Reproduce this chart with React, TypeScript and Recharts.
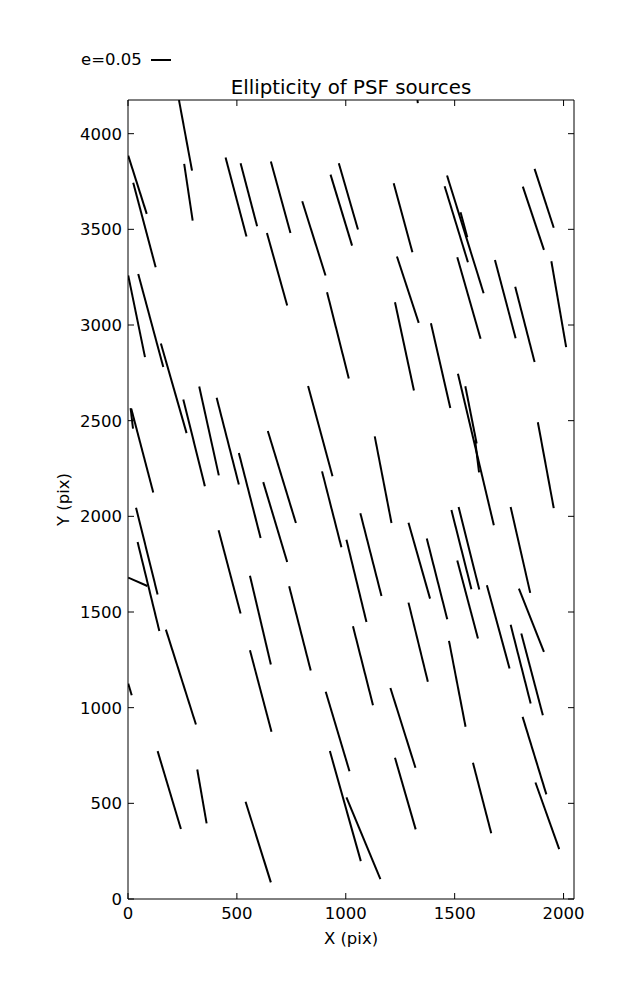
import React from 'react';
import { ComposedChart, Scatter, XAxis, YAxis } from 'recharts';

const xTicks = [0, 500, 1000, 1500, 2000];
const yTicks = [0, 500, 1000, 1500, 2000, 2500, 3000, 3500, 4000];
const xDomain = [0, 2048];
const yDomain = [0, 4176];

const chartTitle = 'Ellipticity of PSF sources';
const xLabel = 'X (pix)';
const yLabel = 'Y (pix)';
const keyLabel = 'e=0.05';

// whisker start points
const segX1 = [234, 258, 1, 24, 448, 517, 656, 800, 638, 930, 968, 1220, 1465, 1454, 1527, 1867, 1813, 1329,
  1, 47, 151, 914, 1235, 1512, 1685, 1778, 1944, 1226, 1391, 254, 327, 407, 12, 15, 509, 642, 621, 827, 891, 1003,
  37, 44, 1, 416, 560, 740, 174, 1515, 1549, 1594, 1133, 1882, 1067, 1288, 1372, 1485, 1518, 1757, 1512, 1648,
  1795, 1757, 1806, 1033, 1288, 560, 1, 908, 927, 1003, 136, 318, 540, 1474, 1205, 1226, 1584, 1812, 1871];
const segY1 = [4176, 3842, 3885, 3743, 3876, 3845, 3854, 3647, 3481, 3786, 3845, 3741, 3781, 3725, 3589, 3816, 3723, 4176,
  3259, 3267, 2903, 3171, 3358, 3354, 3340, 3200, 3333, 3119, 3009, 2611, 2679, 2620, 2566, 2562, 2331, 2446, 2179, 2681, 2235, 1878,
  2045, 1866, 1680, 1927, 1690, 1634, 1408, 2745, 2680, 2397, 2418, 2492, 2016, 1967, 1884, 2033, 2049, 2049, 1769, 1640,
  1622, 1434, 1388, 1426, 1549, 1300, 1126, 1083, 773, 531, 773, 677, 508, 1349, 1103, 738, 712, 952, 609];
// whisker end points
const segX2 = [294, 297, 86, 127, 544, 593, 746, 907, 731, 1029, 1056, 1306, 1633, 1561, 1558, 1955, 1910, 1331,
  78, 162, 269, 1014, 1335, 1619, 1780, 1867, 2012, 1313, 1480, 353, 417, 509, 23, 116, 609, 771, 731, 939, 980, 1095,
  136, 144, 89, 517, 656, 839, 312, 1680, 1601, 1612, 1210, 1955, 1164, 1387, 1466, 1577, 1613, 1847, 1607, 1752,
  1910, 1849, 1905, 1125, 1377, 659, 17, 1017, 1069, 1159, 243, 361, 656, 1550, 1320, 1321, 1668, 1921, 1980];
const segY2 = [3807, 3546, 3581, 3302, 3462, 3516, 3481, 3259, 3102, 3415, 3499, 3380, 3166, 3328, 3459, 3508, 3393, 4160,
  2832, 2780, 2435, 2721, 3011, 2928, 2931, 2806, 2884, 2658, 2566, 2157, 2214, 2167, 2458, 2124, 1887, 1965, 1761, 2209, 1838, 1448,
  1591, 1401, 1636, 1492, 1226, 1194, 912, 1953, 2381, 2230, 1965, 2043, 1584, 1570, 1462, 1619, 1617, 1600, 1361, 1205,
  1291, 1022, 961, 1013, 1135, 874, 1065, 668, 198, 104, 366, 395, 87, 900, 686, 364, 343, 547, 261];

const segments = segX1.map((x1, i) => [
  { x: x1, y: segY1[i] },
  { x: segX2[i], y: segY2[i] },
]);

const FONT = '"DejaVu Sans", sans-serif';
const TICK = 6;
const FS = 16.5;

const noShape = () => <g />;

const BottomTick = (p: any) => (
  <g>
    <line x1={p.x} y1={p.y} x2={p.x} y2={p.y - TICK} stroke="#000" strokeWidth={1} />
    <text x={p.x} y={p.y + 20} textAnchor="middle" fontSize={FS} fontFamily={FONT} fill="#000">
      {p.payload.value}
    </text>
  </g>
);

const LeftTick = (p: any) => (
  <g>
    <line x1={p.x} y1={p.y} x2={p.x + TICK} y2={p.y} stroke="#000" strokeWidth={1} />
    <text x={p.x - 6} y={p.y + 6} textAnchor="end" fontSize={FS} fontFamily={FONT} fill="#000">
      {p.payload.value}
    </text>
  </g>
);

const TopTick = (p: any) => (
  <line x1={p.x} y1={p.y} x2={p.x} y2={p.y + TICK} stroke="#000" strokeWidth={1} />
);

const RightTick = (p: any) => (
  <line x1={p.x} y1={p.y} x2={p.x - TICK} y2={p.y} stroke="#000" strokeWidth={1} />
);

const TopLabel = (props: any) => {
  const vb = props.viewBox || { x: 120, y: 91, width: 446, height: 1 };
  const baseY = vb.y + (vb.height || 0);
  return (
    <g>
      <text x={vb.x + vb.width / 2} y={baseY - 6} textAnchor="middle" fontSize={19.8} fontFamily={FONT} fill="#000">
        {chartTitle}
      </text>
      <text x={vb.x - 47} y={baseY - 35} textAnchor="start" fontSize={FS} fontFamily={FONT} fill="#000">
        {keyLabel}
      </text>
      <line x1={vb.x + 23} y1={baseY - 40} x2={vb.x + 43} y2={baseY - 40} stroke="#000" strokeWidth={2} />
    </g>
  );
};

const BottomLabel = (props: any) => {
  const vb = props.viewBox;
  return (
    <text x={vb.x + vb.width / 2} y={vb.y + 45} textAnchor="middle" fontSize={FS} fontFamily={FONT} fill="#000">
      {xLabel}
    </text>
  );
};

const LeftLabel = (props: any) => {
  const vb = props.viewBox;
  const cx = vb.x + 11;
  const cy = vb.y + vb.height / 2;
  return (
    <text x={cx} y={cy} transform={`rotate(-90 ${cx} ${cy})`} textAnchor="middle" fontSize={FS} fontFamily={FONT} fill="#000">
      {yLabel}
    </text>
  );
};

export default function App() {
  return (
    <div style={{ width: 629, height: 960, background: '#fff' }}>
      <ComposedChart width={629} height={960} margin={{ top: 91, right: 62, bottom: 29, left: 50 }}>
        <XAxis
          xAxisId={0}
          dataKey="x"
          type="number"
          domain={xDomain}
          ticks={xTicks}
          interval={0}
          allowDataOverflow
          height={40}
          tickSize={0}
          tickMargin={0}
          tickLine={false}
          tick={BottomTick}
          axisLine={{ stroke: '#000', strokeWidth: 1 }}
          label={BottomLabel}
        />
        <XAxis
          xAxisId="top"
          orientation="top"
          dataKey="x"
          type="number"
          domain={xDomain}
          ticks={xTicks}
          interval={0}
          allowDataOverflow
          height={1}
          tickSize={0}
          tickMargin={0}
          tickLine={false}
          tick={TopTick}
          axisLine={{ stroke: '#000', strokeWidth: 1 }}
          label={TopLabel}
        />
        <YAxis
          yAxisId={0}
          dataKey="y"
          type="number"
          domain={yDomain}
          ticks={yTicks}
          interval={0}
          allowDataOverflow
          width={70}
          tickSize={0}
          tickMargin={0}
          tickLine={false}
          tick={LeftTick}
          axisLine={{ stroke: '#000', strokeWidth: 1 }}
          label={LeftLabel}
        />
        <YAxis
          yAxisId="right"
          orientation="right"
          dataKey="y"
          type="number"
          domain={yDomain}
          ticks={yTicks}
          interval={0}
          allowDataOverflow
          width={1}
          tickSize={0}
          tickMargin={0}
          tickLine={false}
          tick={RightTick}
          axisLine={{ stroke: '#000', strokeWidth: 1 }}
        />
        <Scatter xAxisId="top" yAxisId="right" data={[]} shape={noShape} isAnimationActive={false} legendType="none" />
        {segments.map((seg, i) => (
          <Scatter
            key={i}
            xAxisId={0}
            yAxisId={0}
            data={seg}
            shape={noShape}
            line={{ stroke: '#000', strokeWidth: 2 }}
            isAnimationActive={false}
            legendType="none"
          />
        ))}
      </ComposedChart>
    </div>
  );
}
